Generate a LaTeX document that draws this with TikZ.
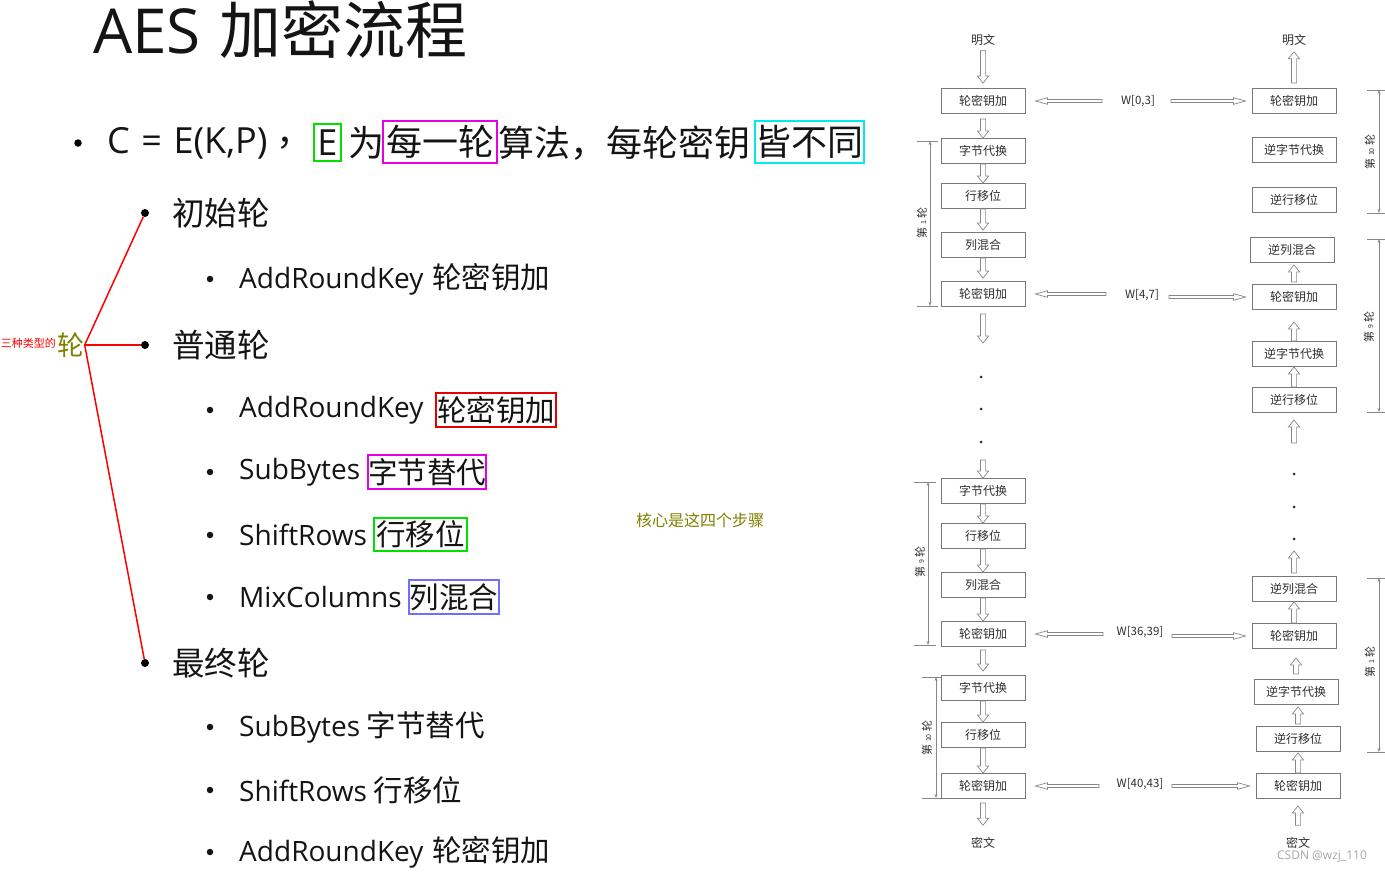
\documentclass[tikz,border=0pt]{standalone}
\usepackage{fontspec}
\setmainfont{Noto Sans CJK SC}
\newfontfamily\lat{Open Sans}
\usetikzlibrary{calc,arrows.meta}
\definecolor{boxgray}{RGB}{120,120,120}
\definecolor{dgray}{RGB}{45,45,45}
\definecolor{hgray}{RGB}{135,135,135}
\definecolor{olivet}{RGB}{128,128,0}
\definecolor{bgreen}{RGB}{0,225,0}
\definecolor{bmag}{RGB}{230,0,230}
\definecolor{bcyan}{RGB}{0,235,235}
\definecolor{bred}{RGB}{230,0,0}
\definecolor{bblue}{RGB}{110,110,255}
\definecolor{textc}{RGB}{20,20,20}
\newcommand{\fsz}[1]{\fontsize{#1}{#1}\selectfont}
\newcommand{\latt}{\lat\fsz{28}}
\begin{document}
\begin{tikzpicture}[x=1pt,y=-1pt,
  hol/.style n args={3}{draw=hgray, line width=0.7pt, to path={
    let \p1=(\tikztostart), \p2=(\tikztotarget),
        \n1={atan2(\y2-\y1,\x2-\x1)}, \n2={veclen(\x2-\x1,\y2-\y1)-#3} in
    ($(\p1)+(\n1-90:#1)$) -- ($(\p1)+(\n1:\n2)+(\n1-90:#1)$)
    -- ($(\p1)+(\n1:\n2)+(\n1-90:#2)$) -- (\p2)
    -- ($(\p1)+(\n1:\n2)+(\n1+90:#2)$) -- ($(\p1)+(\n1:\n2)+(\n1+90:#1)$)
    -- ($(\p1)+(\n1+90:#1)$) -- cycle}},
  varr/.style={hol={2.6pt}{5.6pt}{7}},
  harr/.style={hol={1.5pt}{3.3pt}{12}},
  stepbox/.style={draw=boxgray, line width=0.9pt, minimum width=84pt, minimum height=25pt, inner sep=0pt, font=\fsz{12}, text=dgray},
  lbl/.style={font=\fsz{12}, text=dgray, inner sep=0pt},
  wl/.style={font=\fsz{11.5}, text=dgray, inner sep=0pt},
  rl/.style={font=\fsz{11}, text=dgray, rotate=90, inner sep=0pt},
  brk/.style={draw=hgray, line width=0.6pt},
  brkar/.style={brk, {Stealth[length=4pt,width=3pt]}-{Stealth[length=4pt,width=3pt]}},
  sdot/.style={circle, fill=dgray, inner sep=0pt, minimum size=3pt},
  t2/.style={anchor=west, font=\fsz{32.5}, inner sep=0pt, text=textc},
  t3/.style={anchor=west, font=\fsz{29.5}, inner sep=0pt, text=textc},
  hbox/.style={draw=#1, line width=1.6pt, inner sep=0pt, text=textc},
  bigdot/.style={circle, fill=black, inner sep=0pt, minimum size=8pt},
  smdot/.style={circle, fill=textc, inner sep=0pt, minimum size=6.5pt}
]
\useasboundingbox (0,0) rectangle (1385,873);

% ---------------- left part ----------------
\node[anchor=base west, font=\fsz{62}, inner sep=0pt, text=textc] (title) at (93,53) {{\lat AES}\hspace{0.3em}加密流程};

\node[bigdot, minimum size=7.5pt] (b0) at (78,143) {};
\node[anchor=west, font=\fsz{36}, inner sep=0pt, text=textc] (t0a) at (107,143) {\lat C\hspace{0.32em}=\hspace{0.32em}E(K,P)};
\node[anchor=west, font=\fsz{36}, inner sep=0pt, text=textc] (t0b) at (276,143) {，};
\node[hbox=bgreen, font=\fsz{36}, minimum width=27pt, minimum height=37pt] (ebox) at (327.5,142.5) {\lat E};
\node[anchor=west, font=\fsz{36}, inner sep=0pt, text=textc] (t0c) at (348,143) {为};
\node[hbox=bmag, font=\fsz{36}, minimum width=114pt, minimum height=42pt] (mbox) at (440,142) {每一轮};
\node[anchor=west, font=\fsz{36}, inner sep=0pt, text=textc] (t0d) at (498,143) {算法，每轮密钥};
\node[hbox=bcyan, font=\fsz{36}, minimum width=109pt, minimum height=42pt] (cbox) at (809.5,142) {皆不同};

\node[bigdot] (d1) at (145,213) {};
\node[t2] (r1) at (172,213) {初始轮};
\node[smdot] (s1) at (210,279) {};
\node[t3] (i1) at (239,279) {{\latt AddRoundKey}\hspace{0.3em}轮密钥加};

\node[bigdot] (d2) at (145,345) {};
\node[t2] (r2) at (172,345) {普通轮};
\node[smdot] (s2) at (210,410) {};
\node[t3] (i2) at (239,410) {\latt AddRoundKey};
\node[hbox=bred, font=\fsz{29.5}, minimum width=120pt, minimum height=34pt] (x2) at (496,410) {轮密钥加};
\node[smdot] (s3) at (210,472) {};
\node[t3] (i3) at (239,472) {\latt SubBytes};
\node[hbox=bmag, font=\fsz{29.5}, minimum width=118pt, minimum height=34pt] (x3) at (427,472) {字节替代};
\node[smdot] (s4) at (210,535) {};
\node[t3] (i4) at (239,535) {\latt ShiftRows};
\node[hbox=bgreen, font=\fsz{29.5}, minimum width=93pt, minimum height=33pt] (x4) at (420.5,534.5) {行移位};
\node[smdot] (s5) at (210,597) {};
\node[t3] (i5) at (239,597) {\latt MixColumns};
\node[hbox=bblue, font=\fsz{29.5}, minimum width=90pt, minimum height=34pt] (x5) at (454,597) {列混合};

\node[bigdot] (d3) at (145,663) {};
\node[t2] (r3) at (172,663) {最终轮};
\node[smdot] (s6) at (210,727) {};
\node[t3] (i6) at (239,727) {{\latt SubBytes} 字节替代};
\node[smdot] (s7) at (210,790) {};
\node[t3] (i7) at (239,790) {{\latt ShiftRows} 行移位};
\node[smdot] (s8) at (210,852) {};
\node[t3] (i8) at (239,852) {{\latt AddRoundKey}\hspace{0.3em}轮密钥加};

\node[anchor=east, font=\fsz{11}, text=red, inner sep=0pt] (three) at (56,343) {三种类型的};
\node[font=\fsz{27}, text=olivet, inner sep=0pt] (lun) at (71,345) {轮};
\draw[red, line width=1.5pt] (lun.east) -- (d1);
\draw[red, line width=1.5pt] (lun.east) -- (d2);
\draw[red, line width=1.5pt] (lun.east) -- (d3);

\node[font=\fsz{16}, text=olivet, inner sep=0pt] (core) at (700,520) {核心是这四个步骤};

% ---------------- right diagram: encryption column ----------------
\node[lbl] (mw1) at (983,40) {明文};
\node[stepbox] (L1) at (983,101) {轮密钥加};
\node[stepbox] (L2) at (983,151) {字节代换};
\node[stepbox] (L3) at (983,196) {行移位};
\node[stepbox] (L4) at (983,245) {列混合};
\node[stepbox] (L5) at (983,294) {轮密钥加};
\node[sdot] (ld1) at (981,377) {};
\node[sdot] (ld2) at (981,409) {};
\node[sdot] (ld3) at (981,442) {};
\node[stepbox] (L6) at (983,491) {字节代换};
\node[stepbox] (L7) at (983,536) {行移位};
\node[stepbox] (L8) at (983,585) {列混合};
\node[stepbox] (L9) at (983,634) {轮密钥加};
\node[stepbox] (L10) at (983,688) {字节代换};
\node[stepbox] (L11) at (983,735) {行移位};
\node[stepbox] (L12) at (983,786) {轮密钥加};
\node[lbl] (mw2) at (983,843) {密文};

\coordinate (c1) at (983,343);
\coordinate (c2) at (983,460);
\draw[varr] ([yshift=-5pt]mw1.south) to ([yshift=5pt]L1.north);
\draw[varr] ([yshift=-5pt]L1.south) to (L2.north);
\draw[varr] (L2.south) to (L3.north);
\draw[varr] (L3.south) to ([yshift=2pt]L4.north);
\draw[varr] (L4.south) to ([yshift=3pt]L5.north);
\draw[varr] ([yshift=-7pt]L5.south) to (c1);
\draw[varr] (c2) to (L6.north);
\draw[varr] (L6.south) to (L7.north);
\draw[varr] (L7.south) to (L8.north);
\draw[varr] (L8.south) to (L9.north);
\draw[varr] ([yshift=-3pt]L9.south) to ([yshift=4pt]L10.north);
\draw[varr] (L10.south) to (L11.north);
\draw[varr] (L11.south) to (L12.north);
\draw[varr] ([yshift=-4pt]L12.south) to ([yshift=12pt]mw2.north);

% ---------------- right diagram: decryption column ----------------
\node[lbl] (mw3) at (1294,40) {明文};
\node[stepbox] (R1) at (1294,101) {轮密钥加};
\node[stepbox] (R2) at (1294,150) {逆字节代换};
\node[stepbox] (R3) at (1294,200) {逆行移位};
\node[stepbox] (R4) at (1292,250) {逆列混合};
\node[stepbox] (R5) at (1294,297) {轮密钥加};
\node[stepbox] (R6) at (1294,354) {逆字节代换};
\node[stepbox] (R7) at (1294,400) {逆行移位};
\node[sdot] (rd1) at (1294,474) {};
\node[sdot] (rd2) at (1294,507) {};
\node[sdot] (rd3) at (1294,539) {};
\node[stepbox] (R8) at (1294,589) {逆列混合};
\node[stepbox] (R9) at (1294,636) {轮密钥加};
\node[stepbox] (R10) at (1296,692) {逆字节代换};
\node[stepbox] (R11) at (1298,739) {逆行移位};
\node[stepbox] (R12) at (1298,786) {轮密钥加};
\node[lbl] (mw4) at (1298,843) {密文};

\coordinate (c3) at (1294,443);
\coordinate (c4) at (1294,551);
\draw[varr] ([yshift=5pt]R1.north) to ([yshift=-6pt]mw3.south);
\draw[varr] ([yshift=2pt]R5.north) to ([yshift=-2pt]R5.north |- R4.south);
\draw[varr] (R6.north) to ([yshift=-12pt]R5.south);
\draw[varr] (R7.north) to (R6.south);
\draw[varr] (c3) to ([yshift=-7pt]R7.south);
\draw[varr] ([yshift=3pt]R8.north) to (c4);
\draw[varr] (R9.north) to (R8.south);
\draw[varr] ([yshift=5pt]R10.north) to ([yshift=-9pt]R10.north |- R9.south);
\draw[varr] ([yshift=2pt]R11.north) to ([yshift=-2pt]R11.north |- R10.south);
\draw[varr] (R12.north) to ([yshift=-1pt]R11.south);
\draw[varr] ([yshift=12pt]mw4.north) to ([yshift=-7pt]R12.south);

% ---------------- round keys ----------------
\node[wl] (w1) at (1138,101) {W[0,3]};
\node[wl] (w2) at (1142,295) {W[4,7]};
\node[wl] (w3) at (1140,632) {W[36,39]};
\node[wl] (w4) at (1140,784) {W[40,43]};
\coordinate (w1l) at (1102,101); \coordinate (w1r) at (1171,101);
\coordinate (w2l) at (1106,294); \coordinate (w2r) at (1169,297);
\coordinate (w3l) at (1103,634); \coordinate (w3r) at (1172,636);
\coordinate (w4l) at (1099,786); \coordinate (w4r) at (1172,786);
\draw[harr] (w1l) to ([xshift=10pt]L1.east);
\draw[harr] (w1r) to ([xshift=-6pt]R1.west);
\draw[harr] (w2l) to ([xshift=10pt]L5.east);
\draw[harr] (w2r) to ([xshift=-6pt]R5.west);
\draw[harr] (w3l) to ([xshift=10pt]L9.east);
\draw[harr] (w3r) to ([xshift=-6pt]R9.west);
\draw[harr] (w4l) to ([xshift=10pt]L12.east);
\draw[harr] (w4r) to ([xshift=-6pt]R12.west);

% ---------------- round brackets ----------------
\draw[brkar] (930,141) -- (930,306);
\draw[brk] (917,141) -- (938,141); \draw[brk] (917,306) -- (938,306);
\node[rl] (lr1) at (922,223) {第 {\fsz{7}1} 轮};
\draw[brkar] (928,482) -- (928,645);
\draw[brk] (914,482) -- (936,482); \draw[brk] (914,645) -- (936,645);
\node[rl] (lr9) at (920,562) {第 {\fsz{7}9} 轮};
\draw[brkar] (936,677) -- (936,798);
\draw[brk] (922,677) -- (941,677); \draw[brk] (922,798) -- (941,798);
\node[rl] (lr10) at (927,738) {第 {\fsz{7}10} 轮};

\draw[brkar] (1379,90) -- (1379,213);
\draw[brk] (1367,90) -- (1385,90); \draw[brk] (1367,213) -- (1385,213);
\node[rl] (rr10) at (1370,152) {第 {\fsz{7}10} 轮};
\draw[brkar] (1379,239) -- (1379,412);
\draw[brk] (1367,239) -- (1385,239); \draw[brk] (1367,412) -- (1385,412);
\node[rl] (rr9) at (1369,327) {第 {\fsz{7}9} 轮};
\draw[brkar] (1379,578) -- (1379,752);
\draw[brk] (1367,578) -- (1385,578); \draw[brk] (1367,752) -- (1385,752);
\node[rl] (rr1) at (1370,662) {第 {\fsz{7}1} 轮};

\node[font=\fsz{12}, text={rgb,255:red,165;green,165;blue,165}, inner sep=0pt] (wm) at (1322,857) {\lat CSDN @wzj\_110};
\end{tikzpicture}
\end{document}
